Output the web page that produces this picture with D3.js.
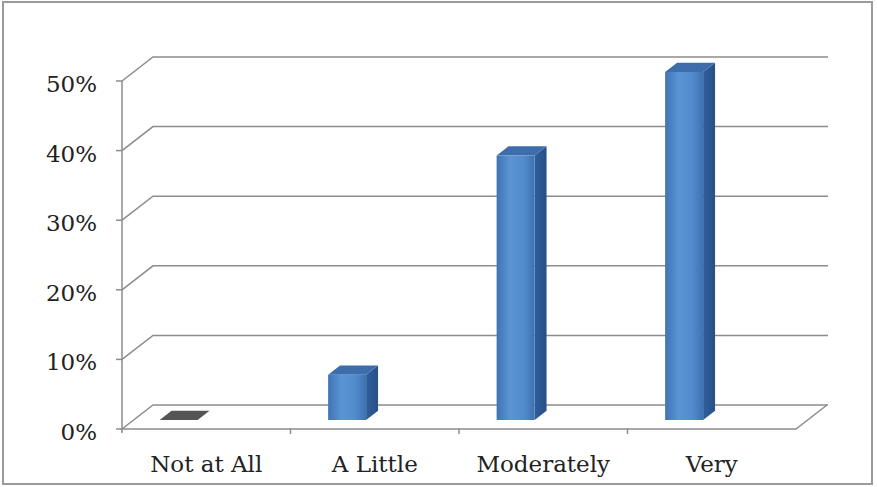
<!DOCTYPE html>
<html>
<head>
<meta charset="utf-8">
<script src="https://cdn.jsdelivr.net/npm/d3@7/dist/d3.min.js"></script>
<style>
  html, body { margin: 0; padding: 0; background: #fff; }
  svg { display: block; }
</style>
</head>
<body>
<script>
// ---- data ----
const categories = ["Not at All", "A Little", "Moderately", "Very"];
const values = [0, 6.5, 38, 50];
const yTicks = [0, 10, 20, 30, 40, 50];
const yTickLabels = ["0%", "10%", "20%", "30%", "40%", "50%"];

// ---- layout ----
const W = 877, H = 487;
const svg = d3.select("body").append("svg").attr("width", W).attr("height", H);

const x = d3.scaleBand().domain(categories).range([122, 796]).padding(0);
const y = d3.scaleLinear().domain([0, 50]).range([429, 81]);

// depth projection (oblique)
const DX = 31, DY = -24;
const P = (px, py, d) => [px + DX * d, py + DY * d];

// outer frame
svg.append("rect").attr("x", 3).attr("y", 2).attr("width", 869).attr("height", 482)
  .attr("fill", "#fff").attr("stroke", "#9a9a9a").attr("stroke-width", 2);

const gridColor = "#8c8c8c";
const line = d3.line();

// gridlines on left wall + back wall
const grid = svg.append("g").attr("fill", "none").attr("stroke", gridColor).attr("stroke-width", 1.5);
yTicks.forEach(v => {
  const a = P(x.range()[0], y(v), 0);
  const b = P(x.range()[0], y(v), 1);
  const c = P(x.range()[1] + 1, y(v), 1);
  grid.append("path").attr("d", line([a, b, c]));
});
// floor front edge and right edge
{
  const f0 = P(x.range()[0], y(0), 0);
  const f1 = P(x.range()[1], y(0), 0);
  const f2 = P(x.range()[1], y(0), 1);
  grid.append("path").attr("d", line([f0, f1, f2]));
}
// vertical axis line
grid.append("path").attr("d", line([[x.range()[0], y(0) + 4], [x.range()[0], y(50)]]));
// y tick marks
yTicks.forEach(v => {
  grid.append("path").attr("d", line([[x.range()[0] - 6, y(v)], [x.range()[0], y(v)]]));
});
// category tick marks
categories.forEach((c, i) => {
  if (i === 0) return;
  const xx = x(c);
  grid.append("path").attr("d", line([[xx, y(0)], [xx, y(0) + 5]]));
});

// y tick labels
const font = "'DejaVu Serif', serif";
svg.append("g").selectAll("text").data(yTicks).join("text")
  .attr("x", 97).attr("y", d => y(d) + 11)
  .attr("text-anchor", "end")
  .attr("font-family", font).attr("font-size", 23).attr("fill", "#222")
  .text((d, i) => yTickLabels[i]);

// x labels
svg.append("g").selectAll("text").data(categories).join("text")
  .attr("x", d => x(d) + x.bandwidth() / 2).attr("y", 472)
  .attr("text-anchor", "middle")
  .attr("font-family", font).attr("font-size", 23).attr("fill", "#222")
  .text(d => d);

// gradients
const defs = svg.append("defs");
const gFront = defs.append("linearGradient").attr("id", "gFront").attr("x1", 0).attr("x2", 1).attr("y1", 0).attr("y2", 0);
gFront.append("stop").attr("offset", "0%").attr("stop-color", "#3f73b4");
gFront.append("stop").attr("offset", "35%").attr("stop-color", "#5b93d3");
gFront.append("stop").attr("offset", "70%").attr("stop-color", "#538ccd");
gFront.append("stop").attr("offset", "100%").attr("stop-color", "#3e72b2");
const gSide = defs.append("linearGradient").attr("id", "gSide").attr("x1", 0).attr("x2", 1).attr("y1", 0).attr("y2", 0);
gSide.append("stop").attr("offset", "0%").attr("stop-color", "#2e5f9c");
gSide.append("stop").attr("offset", "100%").attr("stop-color", "#294f86");

// bars
const d0 = 0.375, d1 = 0.76;
const off = 26, bw = 38;
const bars = svg.append("g");
categories.forEach((c, i) => {
  const v = values[i];
  const xl = x(c) + off, xr = xl + bw;
  const yb = y(0), yt = y(v);
  const poly = pts => bars.append("path").attr("d", line(pts) + "Z");
  if (v > 0) {
    // side face
    poly([P(xr, yb, d0), P(xr, yb, d1), P(xr, yt, d1), P(xr, yt, d0)])
      .attr("fill", "url(#gSide)");
    // top face
    poly([P(xl, yt, d0), P(xr, yt, d0), P(xr, yt, d1), P(xl, yt, d1)])
      .attr("fill", "#3d6dab");
    // front face
    poly([P(xl, yb, d0), P(xr, yb, d0), P(xr, yt, d0), P(xl, yt, d0)])
      .attr("fill", "url(#gFront)");
  } else {
    poly([P(xl, yt, d0), P(xr, yt, d0), P(xr, yt, d1), P(xl, yt, d1)])
      .attr("fill", "#555");
  }
});
</script>
</body>
</html>
